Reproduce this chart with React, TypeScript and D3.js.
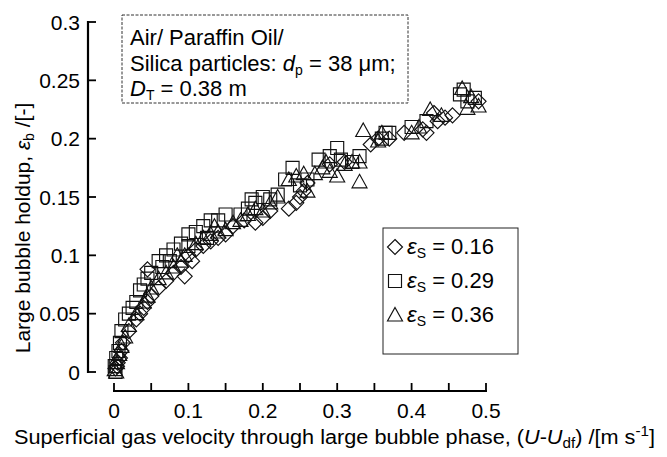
import React from "react";
import * as d3 from "d3";

// ---------- data ----------
const xTickValues = [0, 0.05, 0.1, 0.15, 0.2, 0.25, 0.3, 0.35, 0.4, 0.45, 0.5];
const xTickLabels = ["0", "0.1", "0.2", "0.3", "0.4", "0.5"];
const xLabelValues = [0, 0.1, 0.2, 0.3, 0.4, 0.5];
const yTickValues = [0, 0.05, 0.1, 0.15, 0.2, 0.25, 0.3];
const yTickLabels = ["0", "0.05", "0.1", "0.15", "0.2", "0.25", "0.3"];
const seriesNames = ["0.16", "0.29", "0.36"];

// eps_S = 0.16 (diamonds)
const diamondPts: [number, number][] = [
  [0.002, 0.003], [0.004, 0.005], [0.005, 0.008], [0.008, 0.012], [0.01, 0.018],
  [0.012, 0.025], [0.02, 0.035], [0.03, 0.045], [0.035, 0.05], [0.04, 0.055],
  [0.045, 0.06], [0.05, 0.065], [0.06, 0.072], [0.07, 0.078], [0.08, 0.085],
  [0.09, 0.09], [0.095, 0.082], [0.045, 0.088], [0.1, 0.1], [0.105, 0.095],
  [0.11, 0.105], [0.12, 0.108], [0.13, 0.112], [0.14, 0.115], [0.15, 0.118],
  [0.16, 0.125], [0.175, 0.13], [0.19, 0.128], [0.2, 0.132], [0.21, 0.138],
  [0.235, 0.14], [0.245, 0.145], [0.25, 0.15], [0.255, 0.155], [0.26, 0.162],
  [0.29, 0.178], [0.31, 0.18], [0.345, 0.195], [0.355, 0.2], [0.37, 0.2],
  [0.39, 0.205], [0.415, 0.208], [0.42, 0.205], [0.435, 0.215], [0.43, 0.222],
  [0.445, 0.218], [0.455, 0.22], [0.49, 0.232],
];

// eps_S = 0.29 (squares)
const squarePts: [number, number][] = [
  [0.002, 0.0], [0.001, 0.005], [0.003, 0.012], [0.006, 0.018], [0.008, 0.025],
  [0.01, 0.035], [0.015, 0.045], [0.02, 0.05], [0.025, 0.055], [0.03, 0.06],
  [0.035, 0.07], [0.04, 0.075], [0.045, 0.08], [0.05, 0.085], [0.06, 0.095],
  [0.065, 0.09], [0.07, 0.1], [0.075, 0.095], [0.08, 0.105], [0.09, 0.11],
  [0.1, 0.108], [0.1, 0.118], [0.11, 0.12], [0.12, 0.125], [0.125, 0.115],
  [0.13, 0.13], [0.14, 0.13], [0.15, 0.135], [0.17, 0.135], [0.18, 0.14],
  [0.185, 0.148], [0.19, 0.145], [0.2, 0.15], [0.21, 0.148], [0.22, 0.152],
  [0.23, 0.165], [0.24, 0.175], [0.25, 0.16], [0.26, 0.165], [0.275, 0.182],
  [0.29, 0.185], [0.3, 0.192], [0.305, 0.182], [0.32, 0.18], [0.33, 0.185],
  [0.36, 0.2], [0.365, 0.205], [0.37, 0.205], [0.4, 0.21], [0.42, 0.215],
  [0.465, 0.238], [0.47, 0.242], [0.475, 0.232], [0.485, 0.235],
];

// eps_S = 0.36 (triangles)
const trianglePts: [number, number][] = [
  [0.003, 0.0], [0.001, 0.002], [0.004, 0.008], [0.007, 0.015], [0.01, 0.022],
  [0.015, 0.03], [0.02, 0.04], [0.03, 0.05], [0.04, 0.06], [0.045, 0.065],
  [0.05, 0.072], [0.06, 0.08], [0.07, 0.085], [0.08, 0.09], [0.085, 0.1],
  [0.09, 0.095], [0.095, 0.1], [0.11, 0.11], [0.12, 0.115], [0.13, 0.118],
  [0.135, 0.125], [0.14, 0.12], [0.15, 0.122], [0.16, 0.128], [0.17, 0.13],
  [0.18, 0.135], [0.19, 0.14], [0.2, 0.138], [0.21, 0.145], [0.22, 0.15],
  [0.235, 0.165], [0.245, 0.168], [0.255, 0.17], [0.26, 0.155], [0.27, 0.17],
  [0.28, 0.175], [0.285, 0.18], [0.29, 0.172], [0.3, 0.168], [0.31, 0.178],
  [0.32, 0.18], [0.33, 0.18], [0.33, 0.163], [0.335, 0.207], [0.355, 0.198],
  [0.36, 0.205], [0.4, 0.205], [0.41, 0.21], [0.425, 0.225], [0.44, 0.22],
  [0.468, 0.243], [0.475, 0.226], [0.48, 0.236], [0.49, 0.228],
];

// ---------- layout ----------
const W = 667;
const H = 457;
const FONT = "'Liberation Sans', Arial, Helvetica, sans-serif";
const FS = 21;
const SUB = 14;

const x = d3.scaleLinear().domain([0, 0.5]).range([114, 486]);
const y = d3.scaleLinear().domain([0, 0.3]).range([372, 22]);
const yAxisX = 88;
const xAxisY = 391;

const diamondPath = "M0,-7.5L7.5,0L0,7.5L-7.5,0Z";
const squarePath = "M-6.5,-6.5H6.5V6.5H-6.5Z";
const trianglePath = "M0,-7.5L7.5,6L-7.5,6Z";

const markStyle = { fill: "none", stroke: "#111", strokeWidth: 1.15 };

function Marks({ pts, d }: { pts: [number, number][]; d: string }) {
  return (
    <g>
      {pts.map((p, i) => (
        <path key={i} d={d} transform={`translate(${x(p[0])},${y(p[1])})`} {...markStyle} />
      ))}
    </g>
  );
}

export default function App() {
  const legendShapes = [diamondPath, squarePath, trianglePath];
  const legendY = [247, 281, 315];
  return (
    <svg width={W} height={H} style={{ position: "absolute", left: 0, top: 0, background: "#fff" }} fontFamily={FONT}>
      <rect width={W} height={H} fill="#fff" />
      {/* Y axis */}
      <line x1={yAxisX} x2={yAxisX} y1={y(0.3) - 1} y2={y(0) + 1} stroke="#000" strokeWidth={2.2} />
      {yTickValues.map((v, i) => (
        <g key={i}>
          <line x1={yAxisX} x2={yAxisX + 8} y1={y(v)} y2={y(v)} stroke="#000" strokeWidth={1.8} />
          <text x={yAxisX - 8} y={y(v)} dy="0.36em" textAnchor="end" fontSize={FS}>
            {yTickLabels[i]}
          </text>
        </g>
      ))}
      {/* X axis */}
      <line x1={x(0) - 1} x2={x(0.5) + 1} y1={xAxisY} y2={xAxisY} stroke="#000" strokeWidth={2.2} />
      {xTickValues.map((v, i) => (
        <line key={i} x1={x(v)} x2={x(v)} y1={xAxisY} y2={xAxisY - 8} stroke="#000" strokeWidth={1.8} />
      ))}
      {xLabelValues.map((v, i) => (
        <text key={i} x={x(v)} y={418} textAnchor="middle" fontSize={FS}>
          {xTickLabels[i]}
        </text>
      ))}
      {/* axis titles */}
      <text x={14} y={444} fontSize={20} textLength={641} lengthAdjust="spacingAndGlyphs">
        Superficial gas velocity through large bubble phase, (<tspan fontStyle="italic">U</tspan>-<tspan fontStyle="italic">U</tspan>
        <tspan fontSize={SUB} dy={4}>df</tspan>
        <tspan dy={-4}>) /[m s</tspan>
        <tspan fontSize={SUB} dy={-8}>-1</tspan>
        <tspan dy={8}>]</tspan>
      </text>
      <text transform="translate(30,228) rotate(-90)" textAnchor="middle" fontSize={FS}>
        Large bubble holdup, <tspan fontStyle="italic">ε</tspan>
        <tspan fontSize={SUB} dy={4}>b</tspan>
        <tspan dy={-4}> /[-]</tspan>
      </text>
      {/* data */}
      <Marks pts={diamondPts} d={diamondPath} />
      <Marks pts={squarePts} d={squarePath} />
      <Marks pts={trianglePts} d={trianglePath} />
      {/* annotation box */}
      <rect x={122} y={15} width={286} height={88} fill="#fff" stroke="#333" strokeWidth={1} strokeDasharray="3,1.5" />
      <text x={130} y={45} fontSize={22}>Air/ Paraffin Oil/</text>
      <text x={130} y={71} fontSize={22}>
        Silica particles: <tspan fontStyle="italic">d</tspan>
        <tspan fontSize={SUB} dy={4}>p</tspan>
        <tspan dy={-4}> = 38 μm;</tspan>
      </text>
      <text x={130} y={96} fontSize={22}>
        <tspan fontStyle="italic">D</tspan>
        <tspan fontSize={SUB} dy={4}>T</tspan>
        <tspan dy={-4}> = 0.38 m</tspan>
      </text>
      {/* legend */}
      <rect x={383} y={228} width={135} height={126} fill="#fff" stroke="#222" strokeWidth={1} />
      {seriesNames.map((s, i) => (
        <g key={i}>
          <path d={legendShapes[i]} transform={`translate(395,${legendY[i]})`} {...markStyle} />
          <text x={407} y={legendY[i] + 7} fontSize={22}>
            <tspan fontStyle="italic">ε</tspan>
            <tspan fontSize={SUB} dy={4}>S</tspan>
            <tspan dy={-4}> = {s}</tspan>
          </text>
        </g>
      ))}
    </svg>
  );
}
